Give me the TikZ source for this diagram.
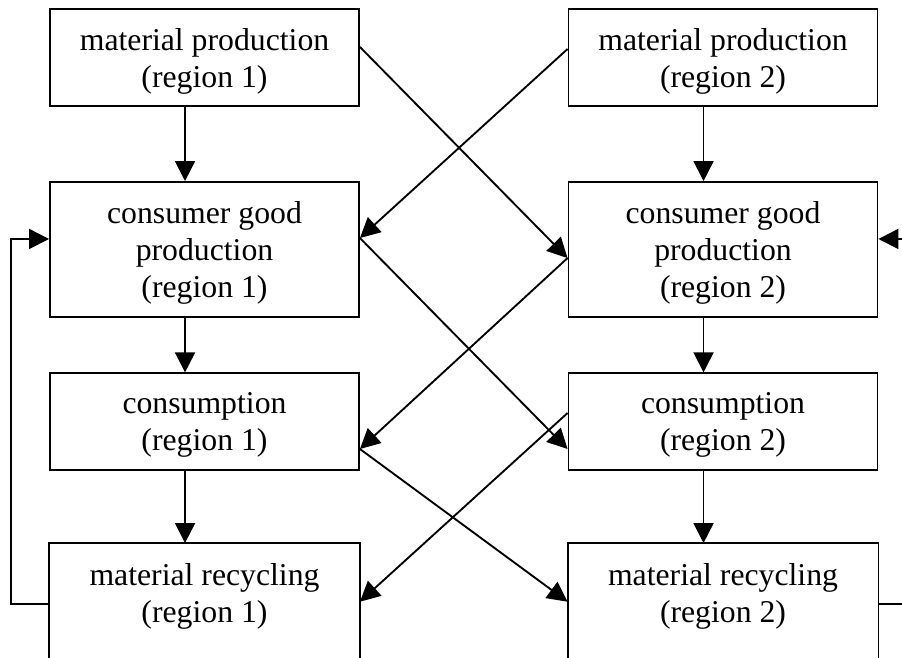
\documentclass[tikz,border=0pt]{standalone}
\usepackage{fontspec}
\setmainfont{Liberation Serif}
\usetikzlibrary{arrows.meta}

\tikzset{every picture/.style={line width=1.4pt}}
\tikzset{
  stage/.style={draw, inner sep=0.75pt, minimum width=231.75pt, minimum height=72.75pt,
    align=center, text depth=0pt, font=\fontsize{23.8}{27.75}\selectfont},
  tall/.style={minimum height=101.25pt},
  flow/.style={-{Triangle[length=15pt,width=15pt]}},
}

\begin{document}
\begin{tikzpicture}[x=0.75pt,y=0.75pt,yscale=-1,xscale=1]
            \useasboundingbox (0,0) rectangle (902,657);

            % Text Node
            \node[stage] (mat1) at (204.5,57.5) {material production\\(region 1)};
            % Text Node
            \node[stage] (mat2) at (723,57.5) {material production\\(region 2)};
            % Text Node
            \node[stage, tall] (good1) at (204.5,249.5) {consumer good\\production\\(region 1)};
            % Text Node
            \node[stage, tall] (good2) at (723,249.5) {consumer good\\production\\(region 2)};
            % Text Node
            \node[stage] (use1) at (204.5,421.8) {consumption\\(region 1)};
            % Text Node
            \node[stage] (use2) at (723,421.8) {consumption\\(region 2)};
            % Text Node
            \node[stage, draw=none] (rec1) at (204.5,592.5) {material recycling\\(region 1)};
            \draw (rec1.north west) rectangle ([yshift=30pt]rec1.south east);
            % Text Node
            \node[stage, draw=none] (rec2) at (723,592.5) {material recycling\\(region 2)};
            \draw (rec2.north west) rectangle ([yshift=30pt]rec2.south east);

            %Straight Lines
            \draw[flow] ([xshift=-14.6pt]mat1.south) -- ([xshift=-14.6pt]good1.north);
            \draw[flow] ([xshift=-14.6pt]good1.south) -- ([xshift=-14.6pt]use1.north);
            \draw[flow] ([xshift=-14.6pt]use1.south) -- ([xshift=-14.6pt]rec1.north);
            \draw[flow] ([xshift=-14.6pt]mat2.south) -- ([xshift=-14.6pt]good2.north);
            \draw[flow] ([xshift=-14.6pt]good2.south) -- ([xshift=-14.6pt]use2.north);
            \draw[flow] ([xshift=-14.6pt]use2.south) -- ([xshift=-14.6pt]rec2.north);

            %Straight Lines
            \draw[flow] ([yshift=-7.9pt]mat1.east) -- ([yshift=6.4pt]good2.west);
            \draw[flow] ([yshift=-6.4pt]mat2.west) -- ([yshift=-8.6pt]good1.east);
            \draw[flow] ([yshift=-8.6pt]good1.east) -- ([yshift=20.4pt]use2.west);
            \draw[flow] ([yshift=6.4pt]good2.west) -- ([yshift=20.4pt]use1.east);
            \draw[flow] ([yshift=20.4pt]use1.east) -- ([yshift=6.9pt]rec2.west);
            \draw[flow] ([yshift=-6.6pt]use2.west) -- ([yshift=6.9pt]rec1.east);

            %Straight Lines
            \draw[flow] ([yshift=8.6pt]rec1.west) -- ++(-28.3pt,0) |- ([yshift=-7.9pt]good1.west);
            \draw ([yshift=8.6pt]rec2.east) -- ++(20pt,0);
            \draw[flow] ([xshift=20pt,yshift=-7.9pt]good2.east) -- ([yshift=-7.9pt]good2.east);
\end{tikzpicture}
\end{document}
